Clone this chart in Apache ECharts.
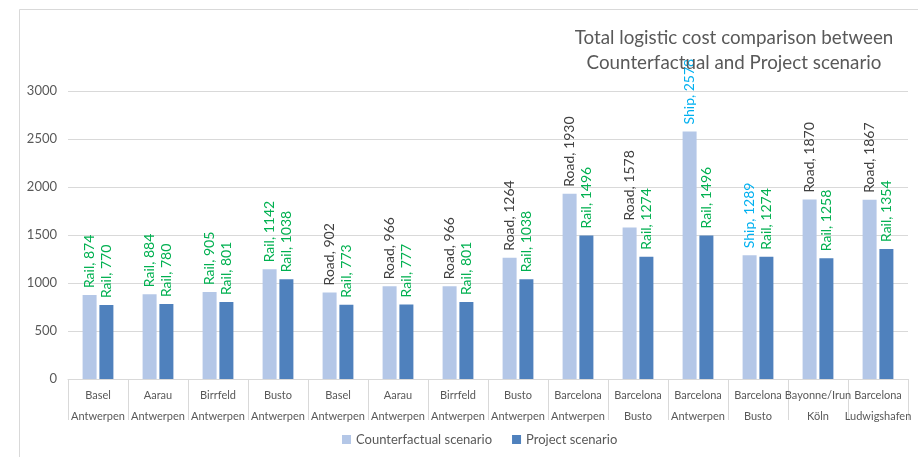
<!DOCTYPE html>
<html><head><meta charset="utf-8">
<script src="https://cdn.jsdelivr.net/npm/echarts@6/dist/echarts.min.js"></script>
<style>html,body{margin:0;padding:0;background:#fff}#c{width:918px;height:457px}</style>
</head><body><div id="c"></div>
<script>
const destinations = ["Basel","Aarau","Birrfeld","Busto","Basel","Aarau","Birrfeld","Busto","Barcelona","Barcelona","Barcelona","Barcelona","Bayonne/Irun","Barcelona"];
const origins = ["Antwerpen","Antwerpen","Antwerpen","Antwerpen","Antwerpen","Antwerpen","Antwerpen","Antwerpen","Antwerpen","Busto","Antwerpen","Busto","Köln","Ludwigshafen"];
const counterfactualValues = [874,884,905,1142,902,966,966,1264,1930,1578,2578,1289,1870,1867];
const counterfactualModes = ["Rail","Rail","Rail","Rail","Road","Road","Road","Road","Road","Road","Ship","Ship","Road","Road"];
const projectValues = [770,780,801,1038,773,777,801,1038,1496,1274,1496,1274,1258,1354];
const projectModes = ["Rail","Rail","Rail","Rail","Rail","Rail","Rail","Rail","Rail","Rail","Rail","Rail","Rail","Rail"];
const yTicks = {min:0, max:3000, interval:500};

const FONT = 'Lato';
const modeColor = {Rail:'#00b050', Road:'#404040', Ship:'#00b0f0'};
const categories = destinations.map((d,i)=>d+'\n'+origins[i]);

function labelFor(modes){
  const fs = 14;
  return {
    show:true, position:'top', rotate:90, align:'left', verticalAlign:'middle', distance:7,
    fontFamily:FONT, fontSize:fs,
    formatter: p => '{' + modes[p.dataIndex].toLowerCase() + '|' + modes[p.dataIndex] + ', ' + p.value + '}',
    rich:{
      rail:{color:modeColor.Rail, fontFamily:FONT, fontSize:fs},
      road:{color:modeColor.Road, fontFamily:FONT, fontSize:fs},
      ship:{color:modeColor.Ship, fontFamily:FONT, fontSize:fs}
    }
  };
}

const chart = echarts.init(document.getElementById('c'), null, {renderer:'canvas'});
chart.setOption({
  animation:false,
  backgroundColor:'#fff',
  textStyle:{fontFamily:FONT},
  graphic:[{type:'rect', shape:{x:19.5,y:9.5,width:1000,height:1000}, style:{fill:'none', stroke:'#d9d9d9', lineWidth:1}, z:-1}],
  title:{
    text:'Total logistic cost comparison between\nCounterfactual and Project scenario',
    left:729, top:20, textAlign:'center',
    textStyle:{fontFamily:FONT, fontSize:18.8, fontWeight:'normal', color:'#595959', lineHeight:25}
  },
  legend:{
    bottom:6, left:337, itemWidth:9, itemHeight:9, itemGap:20, icon:'rect',
    textStyle:{fontFamily:FONT, fontSize:13, color:'#595959'},
    data:['Counterfactual scenario','Project scenario']
  },
  grid:{left:68, right:10, top:91, bottom:78, containLabel:false},
  xAxis:{
    type:'category', data:categories,
    axisLine:{lineStyle:{color:'#d9d9d9'}},
    axisTick:{show:true, length:41, lineStyle:{color:'#d9d9d9'}},
    axisLabel:{interval:0, fontFamily:FONT, fontSize:11, color:'#595959', lineHeight:21, margin:6}
  },
  yAxis:{
    type:'value', min:yTicks.min, max:yTicks.max, interval:yTicks.interval,
    axisLine:{show:false}, axisTick:{show:false},
    splitLine:{lineStyle:{color:'#d9d9d9'}},
    axisLabel:{fontFamily:FONT, fontSize:13, color:'#595959', margin:11, formatter: v => String(v)}
  },
  series:[
    {name:'Counterfactual scenario', type:'bar', data:counterfactualValues, barWidth:14, barGap:'20%',
     itemStyle:{color:'#b4c7e7'}, label:labelFor(counterfactualModes)},
    {name:'Project scenario', type:'bar', data:projectValues, barWidth:14,
     itemStyle:{color:'#4f81bd'}, label:labelFor(projectModes)}
  ]
});
</script></body></html>
